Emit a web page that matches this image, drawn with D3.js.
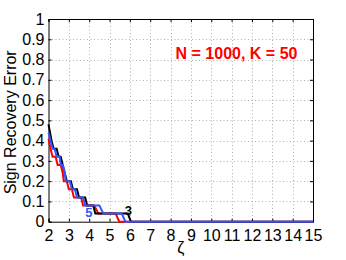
<!DOCTYPE html>
<html>
<head>
<meta charset="utf-8">
<script src="https://cdn.jsdelivr.net/npm/d3@7"></script>
<style>
  body { margin: 0; background: #fff; }
  text { font-family: "Liberation Sans", Arial, sans-serif; }
</style>
</head>
<body>
<svg width="346" height="260"></svg>
<script>
// The svg
var svg = d3.select("svg");
var width = +svg.attr("width");
var height = +svg.attr("height");

// Data (breakpoints of each curve)
var zetaRed   = [2.0, 2.1, 2.2, 2.35, 2.45, 2.6, 2.7, 2.75, 2.9, 3.0, 3.15, 3.25, 3.6, 3.7, 4.25, 4.45, 5.3, 5.48, 15];
var errRed    = [0.41, 0.36, 0.32, 0.32, 0.28, 0.28, 0.24, 0.20, 0.20, 0.16, 0.16, 0.12, 0.12, 0.08, 0.08, 0.04, 0.04, 0, 0];
var zetaBlack = [2.0, 2.15, 2.25, 2.4, 2.5, 2.6, 2.7, 2.8, 2.9, 3.1, 3.2, 3.4, 3.5, 3.8, 3.9, 4.2, 4.3, 5.9, 6.05, 15];
var errBlack  = [0.48, 0.40, 0.36, 0.36, 0.32, 0.32, 0.28, 0.24, 0.20, 0.20, 0.16, 0.16, 0.12, 0.12, 0.08, 0.08, 0.04, 0.04, 0, 0];
var zetaBlue  = [2.0, 2.1, 2.2, 2.3, 2.4, 2.55, 2.6, 2.7, 2.8, 2.85, 3.05, 3.15, 3.3, 3.4, 3.7, 3.8, 4.5, 4.7, 5.6, 5.78, 15];
var errBlue   = [0.44, 0.40, 0.36, 0.36, 0.32, 0.32, 0.28, 0.28, 0.24, 0.20, 0.20, 0.16, 0.16, 0.12, 0.12, 0.08, 0.08, 0.04, 0.04, 0, 0];

var xTicks = d3.range(2, 16);
var yTicks = [0, 0.1, 0.2, 0.3, 0.4, 0.5, 0.6, 0.7, 0.8, 0.9, 1];

var series = [
  { name: "1", color: "#ff0000", x: zetaRed,   y: errRed },
  { name: "3", color: "#000000", x: zetaBlack, y: errBlack },
  { name: "5", color: "#3355ff", x: zetaBlue,  y: errBlue }
];

// Plot box
var pLeft = 48.5, pRight = 313, pTop = 19, pBottom = 221.7;

var x = d3.scaleLinear().domain([2, 15]).range([pLeft, pRight]);
var y = d3.scaleLinear().domain([0, 1]).range([pBottom, pTop]);

// grid
var grid = svg.append("g")
  .attr("stroke", "#b0b0b0")
  .attr("stroke-width", 1)
  .attr("stroke-dasharray", "1,2.5");
grid.selectAll(".gx").data(xTicks.slice(1, -1)).enter().append("line")
  .attr("x1", d => Math.round(x(d)) + 0.5).attr("x2", d => Math.round(x(d)) + 0.5)
  .attr("y1", pTop).attr("y2", pBottom);
grid.selectAll(".gy").data(yTicks.slice(1, -1)).enter().append("line")
  .attr("y1", d => Math.round(y(d)) + 0.5).attr("y2", d => Math.round(y(d)) + 0.5)
  .attr("x1", pLeft).attr("x2", pRight);

// axes (ticks inward on all sides)
var tl = 3;
svg.append("g").attr("transform", "translate(0," + pBottom + ")")
  .call(d3.axisBottom(x).tickValues(xTicks).tickSize(-tl).tickPadding(8).tickFormat(d3.format("d")));
svg.append("g").attr("transform", "translate(0," + pTop + ")")
  .call(d3.axisTop(x).tickValues(xTicks).tickSize(-tl).tickFormat(""));
svg.append("g").attr("transform", "translate(" + pLeft + ",0)")
  .call(d3.axisLeft(y).tickValues(yTicks).tickSize(-tl).tickPadding(4).tickFormat(d => d === 0 || d === 1 ? d3.format("d")(d) : d3.format(".1f")(d)));
svg.append("g").attr("transform", "translate(" + pRight + ",0)")
  .call(d3.axisRight(y).tickValues(yTicks).tickSize(-tl).tickFormat(""));

svg.selectAll(".domain").attr("stroke", "#000");
svg.selectAll(".tick line").attr("stroke", "#000");
svg.selectAll(".tick text")
  .attr("fill", "#000")
  .style("font-size", "16px")
  .style("font-family", "'Liberation Sans', Arial, sans-serif");

// curves
var line = d3.line().x(d => x(d[0])).y(d => y(d[1]));
svg.append("g").selectAll("path")
  .data(series)
  .enter()
  .append("path")
    .attr("d", d => line(d.x.map((v, i) => [v, d.y[i]])))
    .attr("fill", "none")
    .attr("stroke", d => d.color)
    .attr("stroke-width", 2)
    .attr("stroke-linejoin", "miter");

// curve labels
svg.append("text").attr("x", x(3.98)).attr("y", y(0.022))
  .attr("text-anchor", "middle").attr("fill", "#3355ff")
  .style("font-size", "13px").style("font-weight", "bold").text("5");
svg.append("text").attr("x", x(5.92)).attr("y", y(0.032))
  .attr("text-anchor", "middle").attr("fill", "#000")
  .style("font-size", "13px").style("font-weight", "bold").text("3");

// annotation
svg.append("text").attr("x", 236.5).attr("y", 59)
  .attr("text-anchor", "middle").attr("fill", "#ff0000")
  .style("font-size", "16px").style("font-weight", "bold")
  .text("N = 1000, K = 50");

// axis labels
svg.append("text").attr("x", x(8.5)).attr("y", 253)
  .attr("text-anchor", "middle").style("font-size", "16px").text("ζ");
svg.append("text")
  .attr("transform", "translate(16," + ((pTop + pBottom) / 2 + 2) + ") rotate(-90)")
  .attr("text-anchor", "middle").style("font-size", "16px").text("Sign Recovery Error");
</script>
</body>
</html>
